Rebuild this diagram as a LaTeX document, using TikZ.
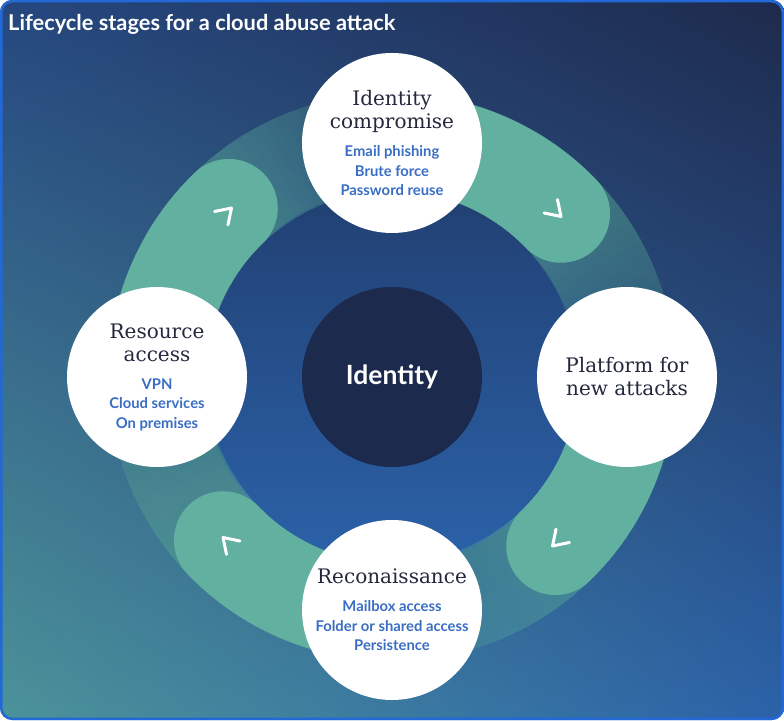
\documentclass[tikz,border=0pt]{standalone}
\usepackage{fontspec}
\setmainfont{DejaVu Serif}
\newfontfamily\latofont{Lato}
\usepackage{xcolor}
\usepackage{tikz}
\usetikzlibrary{positioning, calc, shadings}

\definecolor{ringgreen}{HTML}{62B0A0}
\definecolor{coreblue}{HTML}{1C2A4E}
\definecolor{subblue}{HTML}{3A6EC4}
\definecolor{serifink}{HTML}{23283D}
\definecolor{bgul}{HTML}{25477F}
\definecolor{bgur}{HTML}{1E2A4C}
\definecolor{bgll}{HTML}{4C9399}
\definecolor{bglr}{HTML}{2B62A9}
\definecolor{frameblue}{HTML}{2268D6}

\tikzset{
    stage/.style={circle, fill=white, minimum size=180pt, inner sep=0pt, align=center,
        text=serifink, font=\fontsize{20}{23}\selectfont},
    seg/.style={ringgreen, line width=98pt, line cap=round},
    tail/.style={ringgreen, line width=98pt, draw opacity=0.04},
    chevron/.style={white, line width=3pt, line cap=round, line join=round},
}
\newcommand{\sub}[1]{{\latofont\bfseries\fontsize{14.8}{19.5}\selectfont\color{subblue}#1}}

\begin{document}
\begin{tikzpicture}[x=1pt, y=1pt]
    \useasboundingbox (0,0) rectangle (784,720);
    \shade[upper left=bgul, upper right=bgur, lower left=bgll, lower right=bglr,
        rounded corners=12pt] (0,0) rectangle (784,720);
    \draw[frameblue, line width=2.5pt, rounded corners=11pt] (1.25,1.25) rectangle (782.75,718.75);

    \node[anchor=base west, inner sep=0pt, text=white, font=\latofont\bfseries\fontsize{21.8}{26}\selectfont]
        (title) at (8,689) {Lifecycle stages for a cloud abuse attack};

    \coordinate (hub) at (392,343);

    % inner disc
    \shade[top color=bgul!90!black, bottom color=bglr] (hub) circle[radius=188];

    % fading tails
    \foreach \a in {90,0,-90,-180} {
        \foreach \k in {1,...,20} {
            \draw[tail] ([shift={(\a-30:235)}]hub) arc[start angle=\a-30, end angle=\a-46-\k*2.2, radius=235];
        }
    }

    % solid green segments
    \foreach \a in {90,0,-90,-180} {
        \draw[seg] ([shift={(\a:235)}]hub) arc[start angle=\a, end angle=\a-46, radius=235];
    }

    % chevrons
    \foreach \a in {45,-45,-135,135} {
        \begin{scope}[shift={($(hub)+(\a:233)$)}, rotate=\a-90]
            \draw[chevron] (-8.5,-9.5) -- (6,0) -- (-8.5,9.5);
        \end{scope}
    }

    \node[circle, fill=coreblue, minimum size=180pt, text=white,
        font=\latofont\bfseries\fontsize{26.5}{30}\selectfont] (core) at (hub) {Identity};

    \node[stage] (compromise) at ($(hub)+(90:234)$)
        {Identity\\compromise\\[5pt]\sub{Email phishing}\\[-3.5pt]\sub{Brute force}\\[-3.5pt]\sub{Password reuse}};
    \node[stage] (platform) at ($(hub)+(0:235)$) {Platform for\\new attacks};
    \node[stage] (recon) at ($(hub)+(-90:233)$)
        {Reconaissance\\[5pt]\sub{Mailbox access}\\[-3.5pt]\sub{Folder or shared access}\\[-3.5pt]\sub{Persistence}};
    \node[stage] (access) at ($(hub)+(180:235)$)
        {Resource\\access\\[5pt]\sub{VPN}\\[-3.5pt]\sub{Cloud services}\\[-3.5pt]\sub{On premises}};
\end{tikzpicture}
\end{document}
